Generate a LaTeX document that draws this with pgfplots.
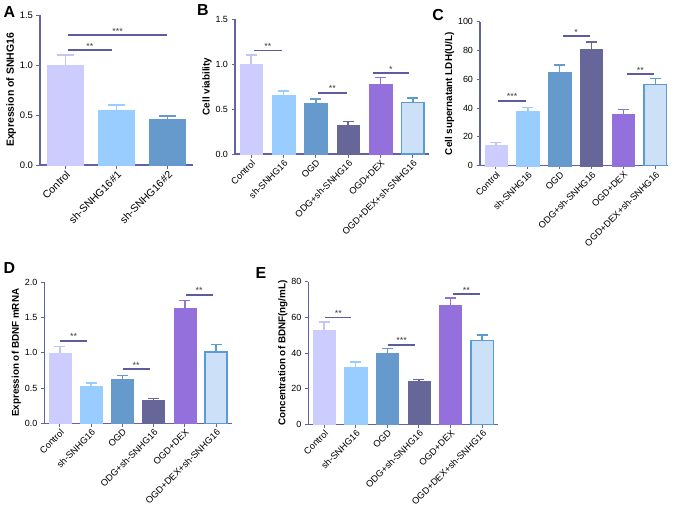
\documentclass[border=0pt]{standalone}
\usepackage{fontspec}
\setmainfont{Liberation Sans}
\usepackage{pgfplots}
\pgfplotsset{compat=1.18}

\definecolor{cA}{HTML}{CCCCFF}
\definecolor{cAe}{HTML}{C4C4F6}
\definecolor{cB}{HTML}{99CCFF}
\definecolor{cC}{HTML}{6699CC}
\definecolor{cD}{HTML}{666699}
\definecolor{cE}{HTML}{9370DB}
\definecolor{cF}{HTML}{CCE0F8}
\definecolor{cFe}{HTML}{5B9BD5}
\definecolor{axc}{HTML}{6262A6}
\definecolor{sigc}{HTML}{5C5C9E}

\pgfplotsset{
  panel/.style={
    scale only axis, axis x line*=bottom, axis y line*=left,
    axis line style={axc, line width=1.2bp},
    tick style={axc, line width=1bp},
    major tick length=3.5bp, tick align=outside,
    enlargelimits=false, ymin=0, xmin=-0.5, xmax=5.5,
    xtick={0,...,5},
    xticklabels={Control, sh-SNHG16, OGD, ODG+sh-SNHG16, OGD+DEX, OGD+DEX+sh-SNHG16},
    xticklabel style={rotate=45, anchor=north east, inner sep=1bp, font=\fontsize{9.3}{10}\selectfont},
    yticklabel style={font=\fontsize{9}{10}\selectfont},
    /pgf/number format/assume math mode=true,
    ylabel style={font=\bfseries\fontsize{9.9}{11}\selectfont},
    ylabel shift=-3bp,
    anchor=south west,
    clip=false,
  },
  onedec/.style={yticklabel style={/pgf/number format/fixed, /pgf/number format/fixed zerofill, /pgf/number format/precision=1}},
}
\newlength{\capsz}
\setlength{\capsz}{5.5bp}

% style, errcolor, x, y, err
\newcommand{\pbar}[5]{%
  \addplot[ybar, bar shift=0pt, bar width=0.7, #1, error bars/.cd, y dir=plus, y explicit,
    error bar style={#2, line width=1.5bp},
    error mark options={#2, rotate=90, mark size=\capsz, line width=1.5bp}]
    coordinates {(#3,#4) +- (0,#5)};
}
% x1, x2, y, stars, xmid
\newcommand{\sig}[5]{%
  \addplot[sigc, line width=1.7bp, mark=none] coordinates {(#1,#3) (#2,#3)};
  \node[anchor=south, inner sep=0.8bp, font=\fontsize{9}{9}\selectfont, text=black!75] at (axis cs:#5,#3) {#4};
}

\begin{document}
\begin{tikzpicture}
\useasboundingbox (0,0) rectangle (677bp,-508bp);

% Panel letters
\node[font=\bfseries\fontsize{16}{16}\selectfont] at (9.5bp,-12bp) {A};
\node[font=\bfseries\fontsize{16}{16}\selectfont] at (203bp,-10bp) {B};
\node[font=\bfseries\fontsize{16}{16}\selectfont] at (438bp,-15bp) {C};
\node[font=\bfseries\fontsize{16}{16}\selectfont] at (9.5bp,-268bp) {D};
\node[font=\bfseries\fontsize{16}{16}\selectfont] at (261bp,-273bp) {E};

% ---------- A ----------
\setlength{\capsz}{8.5bp}
\begin{axis}[panel, onedec, at={(40bp,-165bp)}, width=153bp, height=150bp,
  xmin=-0.5, xmax=2.5, ymax=1.5, ytick={0,0.5,1,1.5}, xtick={0,1,2},
  xticklabels={Control, sh-SNHG16\#1, sh-SNHG16\#2},
  xticklabel style={font=\fontsize{10.6}{11}\selectfont},
  yticklabel style={font=\fontsize{9.5}{10}\selectfont},
  ylabel style={font=\bfseries\fontsize{10.5}{11}\selectfont},
  ylabel={Expression of SNHG16}]
\pbar{fill=cA, draw=cA}{cAe}{0}{1.00}{0.10}
\pbar{fill=cB, draw=cB}{cB}{1}{0.55}{0.05}
\pbar{fill=cC, draw=cC}{cC}{2}{0.46}{0.03}
\sig{0.05}{0.91}{1.15}{**}{0.48}
\sig{0.05}{2.0}{1.30}{***}{1.02}
\end{axis}

% ---------- B ----------
\setlength{\capsz}{5.5bp}
\begin{axis}[panel, onedec, at={(235bp,-154bp)}, width=194bp, height=135bp,
  ymax=1.5, ytick={0,0.5,1,1.5}, ylabel={Cell viability}]
\pbar{fill=cA, draw=cA}{cAe}{0}{1.00}{0.10}
\pbar{fill=cB, draw=cB}{cB}{1}{0.65}{0.05}
\pbar{fill=cC, draw=cC}{cC}{2}{0.56}{0.05}
\pbar{fill=cD, draw=cD}{cD}{3}{0.32}{0.04}
\pbar{fill=cE, draw=cE}{cE}{4}{0.78}{0.07}
\pbar{fill=cF, draw=cFe, line width=1.5bp}{cFe}{5}{0.57}{0.05}
\sig{0.09}{0.95}{1.15}{**}{0.52}
\sig{2.07}{2.95}{0.68}{**}{2.51}
\sig{3.76}{4.89}{0.90}{*}{4.32}
\end{axis}

% ---------- C ----------
\begin{axis}[panel, at={(480bp,-165.7bp)}, width=188bp, height=144bp,
  xmax=5.4, ymax=100, ytick={0,20,...,100}, ylabel={Cell supernatant LDH(U/L)}]
\pbar{fill=cA, draw=cA}{cAe}{0}{14}{2}
\pbar{fill=cB, draw=cB}{cB}{1}{38}{2.5}
\pbar{fill=cC, draw=cC}{cC}{2}{65}{5}
\pbar{fill=cD, draw=cD}{cD}{3}{81}{5}
\pbar{fill=cE, draw=cE}{cE}{4}{36}{3}
\pbar{fill=cF, draw=cFe, line width=1.5bp}{cFe}{5}{56.5}{4}
\sig{0.08}{0.94}{45}{***}{0.51}
\sig{2.1}{2.95}{90}{*}{2.52}
\sig{4.11}{4.95}{63.5}{**}{4.53}
\end{axis}

% ---------- D ----------
\begin{axis}[panel, onedec, at={(44.3bp,-423.3bp)}, width=187.4bp, height=141bp,
  ymax=2, ytick={0,0.5,...,2}, ylabel={Expression of BDNF mRNA}]
\pbar{fill=cA, draw=cA}{cAe}{0}{1.00}{0.09}
\pbar{fill=cB, draw=cB}{cB}{1}{0.52}{0.05}
\pbar{fill=cC, draw=cC}{cC}{2}{0.62}{0.06}
\pbar{fill=cD, draw=cD}{cD}{3}{0.33}{0.02}
\pbar{fill=cE, draw=cE}{cE}{4}{1.63}{0.11}
\pbar{fill=cF, draw=cFe, line width=1.5bp}{cFe}{5}{1.01}{0.11}
\sig{0.01}{0.87}{1.17}{**}{0.44}
\sig{2.01}{2.87}{0.77}{**}{2.44}
\sig{4.03}{4.90}{1.82}{**}{4.46}
\end{axis}

% ---------- E ----------
\begin{axis}[panel, at={(308.3bp,-424.3bp)}, width=189.7bp, height=142.6bp,
  ymax=80, ytick={0,20,...,80}, ylabel={Concentration of BDNF(ng/mL)}]
\pbar{fill=cA, draw=cA}{cAe}{0}{53}{4.5}
\pbar{fill=cB, draw=cB}{cB}{1}{32}{3}
\pbar{fill=cC, draw=cC}{cC}{2}{40}{2.5}
\pbar{fill=cD, draw=cD}{cD}{3}{24}{1}
\pbar{fill=cE, draw=cE}{cE}{4}{67}{4}
\pbar{fill=cF, draw=cFe, line width=1.5bp}{cFe}{5}{47}{3}
\sig{0.04}{0.86}{60}{**}{0.45}
\sig{2.01}{2.89}{44.5}{***}{2.45}
\sig{4.07}{4.93}{73}{**}{4.50}
\end{axis}
\end{tikzpicture}
\end{document}
